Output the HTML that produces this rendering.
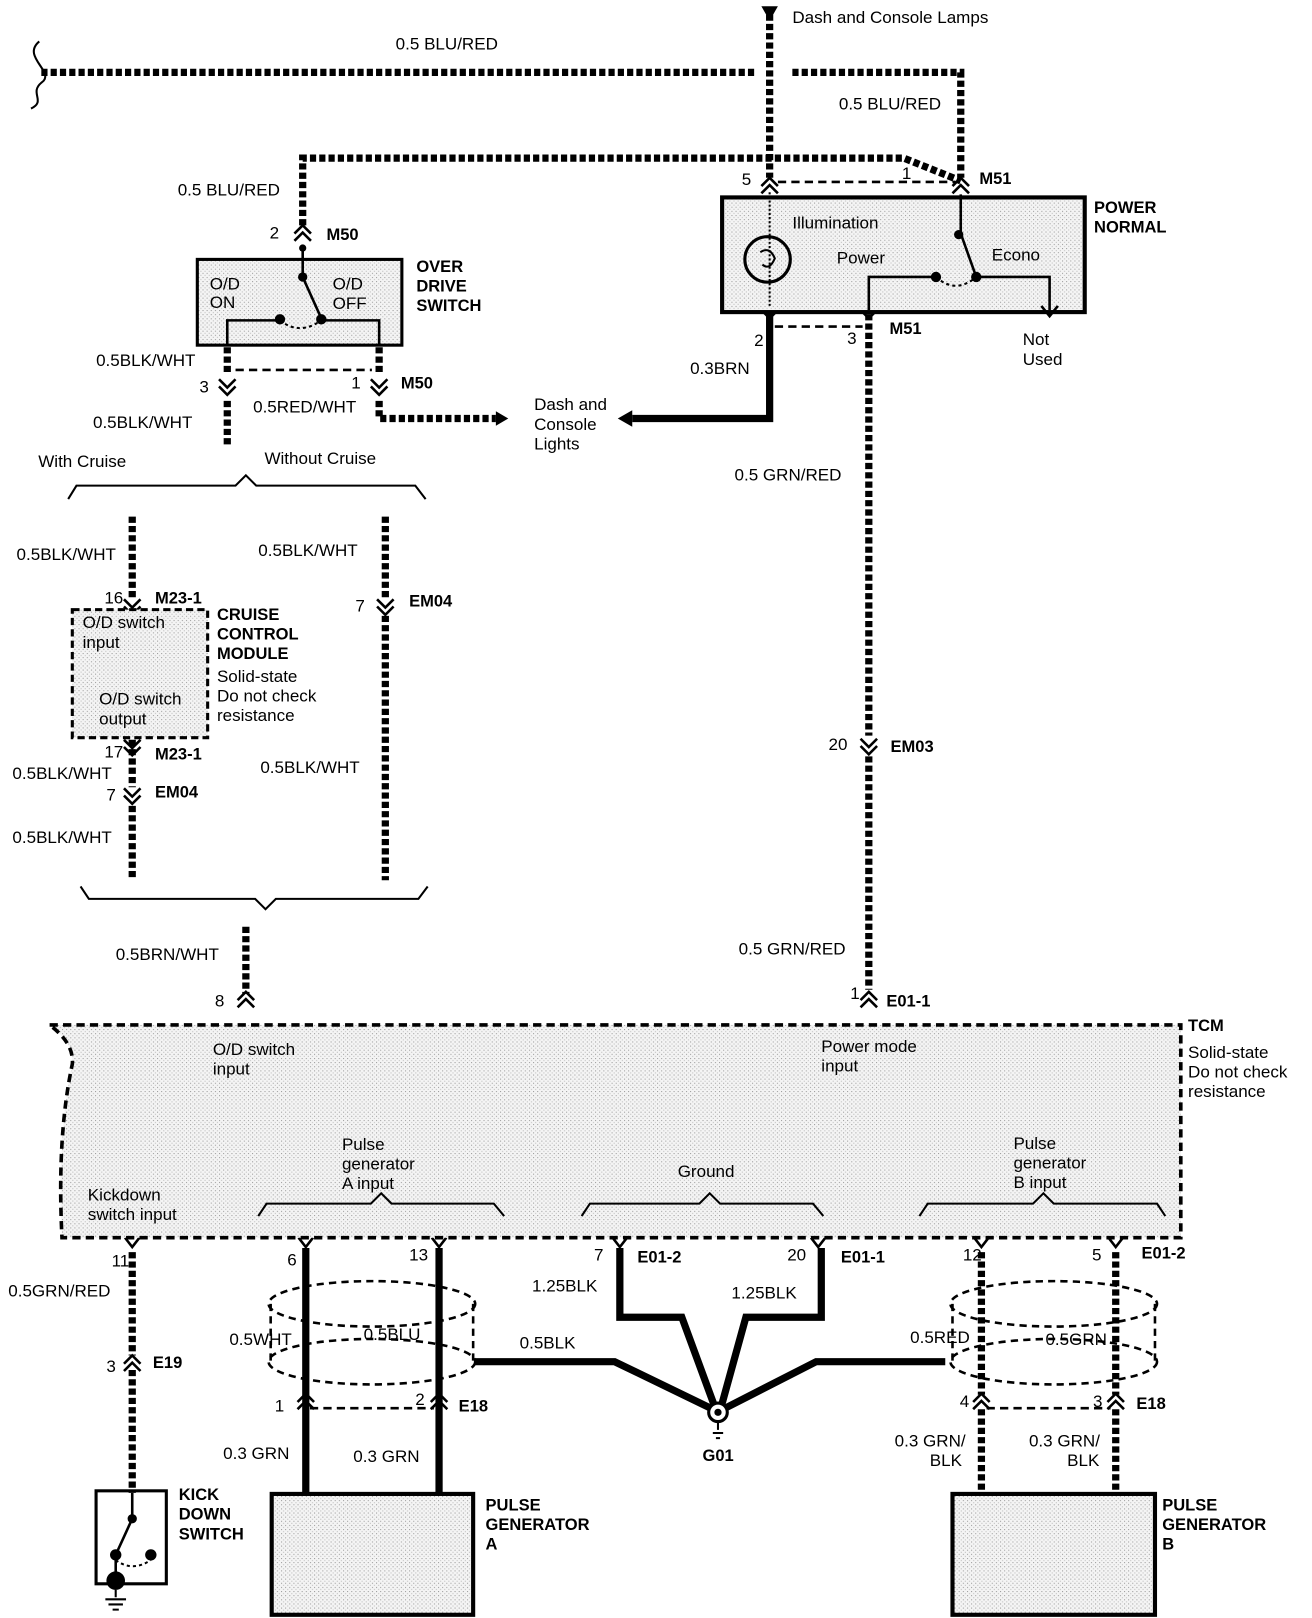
<!DOCTYPE html>
<html><head><meta charset="utf-8"><style>
html,body{margin:0;padding:0;background:#fff}
svg{display:block}
text{font-family:"Liberation Sans",sans-serif;font-size:16.5px;fill:#000}
.b{font-weight:bold;font-size:16px}
</style></head><body>
<svg width="1312" height="1618" viewBox="0 0 1270 1566" xmlns="http://www.w3.org/2000/svg">
<defs>
<pattern id="st" width="4" height="4" patternUnits="userSpaceOnUse"><rect width="4" height="4" fill="#f4f4f4"/><rect x="0" y="0" width="1" height="1" fill="#999"/><rect x="2" y="2" width="1" height="1" fill="#bbb"/></pattern>
<g id="cd" fill="none" stroke="#000" stroke-width="2.5"><polyline points="-8,-7 0,1 8,-7"/><polyline points="-8,0 0,8 8,0"/></g>
<g id="cu" fill="none" stroke="#000" stroke-width="2.5"><polyline points="-8,7 0,-1 8,7"/><polyline points="-8,0 0,-8 8,0"/></g>
<g id="vd" fill="none" stroke="#000" stroke-width="2.5"><polyline points="-7,-6 0,3 7,-6"/></g>
</defs>
<g fill="none" stroke="#000">
<!-- hatched wires -->
<g stroke-width="7" stroke-dasharray="6 3">
<path d="M40 70 H733"/>
<path d="M767 70 H930 V172"/>
<path d="M745 14 V172"/>
<path d="M293 218 V153 H875 L930 175"/>
<path d="M220 336 V362 M220 388 V432"/>
<path d="M367 336 V362 M367 388 V405 H480"/>
<path d="M841 304 V712 M841 732 V958"/>
<path d="M128 500 V580 M128 716 V762 M128 780 V852"/>
<path d="M373 500 V580 M373 596 V852"/>
<path d="M238 897 V962"/>
<path d="M128 1212 V1312 M128 1326 V1445"/>
<path d="M950 1212 V1350 M950 1364 V1446"/>
<path d="M1080 1212 V1350 M1080 1364 V1446"/>
</g>
<!-- solid wires -->
<g stroke-width="7">
<path d="M745 302 V405 H612"/>
<path d="M296 1208 V1448 M425 1208 V1448"/>
<path d="M600 1208 V1275 H660 L692 1362"/>
<path d="M795 1208 V1275 H722 L698 1362"/>
<path d="M460 1318 H595 L690 1364"/>
<path d="M915 1318 H790 L700 1364"/>
</g>
<polygon points="612,397 598,405 612,413" fill="#000" stroke="none"/>
<polygon points="480,398 492,405 480,412" fill="#000" stroke="none"/>
<polygon points="737,6 753,6 745,20" fill="#000" stroke="none"/>
<!-- wavy break -->
<path d="M38 40 C20 55,55 70,40 80 C28 90,45 98,30 105" stroke-width="2"/>
<!-- chevrons -->
<use href="#cu" x="293" y="226"/>
<use href="#cd" x="220" y="374"/><use href="#cd" x="367" y="374"/>
<path d="M228 358 H360" stroke-width="2.5" stroke-dasharray="8 5"/>
<use href="#cu" x="745" y="180"/><use href="#cu" x="930" y="180"/>
<path d="M753 176 H925" stroke-width="2.5" stroke-dasharray="8 5"/>
<use href="#cd" x="745" y="300"/><use href="#cd" x="841" y="300"/>
<path d="M750 316 H835" stroke-width="2.5" stroke-dasharray="8 5"/>
<use href="#cd" x="841" y="722"/>
<use href="#cd" x="128" y="587"/><use href="#cd" x="373" y="587"/>
<use href="#cd" x="128" y="770"/>
<use href="#cd" x="128" y="723"/>
<use href="#cu" x="238" y="968"/><use href="#cu" x="841" y="968"/>
<use href="#vd" x="128" y="1204"/><use href="#vd" x="296" y="1204"/><use href="#vd" x="425" y="1204"/><use href="#vd" x="600" y="1204"/><use href="#vd" x="792" y="1204"/><use href="#vd" x="950" y="1204"/><use href="#vd" x="1080" y="1204"/>
<use href="#cu" x="128" y="1320"/>
<use href="#cu" x="296" y="1357"/><use href="#cu" x="425" y="1357"/>
<path d="M300 1363 H420" stroke-width="2.5" stroke-dasharray="8 5"/>
<use href="#cu" x="950" y="1357"/><use href="#cu" x="1080" y="1357"/>
<path d="M955 1363 H1075" stroke-width="2.5" stroke-dasharray="8 5"/>
<!-- overdrive switch -->
<rect x="191" y="251" width="198" height="83" fill="url(#st)" stroke-width="3"/>
<path d="M293 240 V268 L311 308" stroke-width="2.5"/>
<path d="M220 334 V310 H271 M311 310 H367 V334" stroke-width="2.5"/>
<path d="M271 310 Q290 325 311 310" stroke-width="2" stroke-dasharray="3 3"/>
<!-- power normal -->
<rect x="699" y="191" width="351" height="111" fill="url(#st)" stroke-width="4"/>
<circle cx="743" cy="251" r="22" stroke-width="3"/>
<path d="M745 186 V298" stroke-width="2" stroke-dasharray="2 2"/>
<path d="M930 188 V226 L945 268" stroke-width="2.5"/>
<path d="M841 300 V268 H906 M945 268 H1016 V300" stroke-width="2.5"/>
<path d="M906 268 Q925 285 945 268" stroke-width="2" stroke-dasharray="3 3"/>
<polyline points="1008,296 1016,306 1024,296" stroke-width="2.5"/>
<!-- braces -->
<path d="M66 483 L74 470 H228 L238 460 L248 470 H402 L412 483" stroke-width="2"/>
<path d="M78 858 L86 870 H247 L257 880 L267 870 H405 L414 858" stroke-width="2"/>
<!-- cruise module -->
<rect x="70" y="590" width="131" height="124" fill="url(#st)" stroke-width="3" stroke-dasharray="7 4"/>
<!-- TCM -->
<path d="M48 992 H1143 V1198 H60 Q55 1100 70 1030 Q72 1010 48 992 Z" fill="url(#st)" stroke-width="3.5" stroke-dasharray="8 5"/>
<path d="M250 1177 L258 1165 H359 L369 1155 L379 1165 H478 L488 1177" stroke-width="2"/>
<path d="M563 1177 L571 1165 H677 L687 1155 L697 1165 H787 L797 1177" stroke-width="2"/>
<path d="M890 1177 L898 1165 H1000 L1010 1155 L1020 1165 H1120 L1128 1177" stroke-width="2"/>
<!-- shields -->
<g stroke-width="2.5" stroke-dasharray="7 5">
<ellipse cx="360" cy="1262" rx="100" ry="22"/><ellipse cx="360" cy="1318" rx="100" ry="22"/>
<path d="M262 1262 V1318 M458 1262 V1318"/>
<ellipse cx="1020" cy="1262" rx="100" ry="22"/><ellipse cx="1020" cy="1318" rx="100" ry="22"/>
<path d="M922 1262 V1318 M1118 1262 V1318"/>
</g>
<!-- G01 -->
<circle cx="695" cy="1367" r="9" fill="#fff" stroke-width="3"/><circle cx="695" cy="1367" r="3" fill="#000"/>
<path d="M695 1376 V1384 M690 1387 H700 M693 1392 H697" stroke-width="2"/>
<!-- kickdown -->
<rect x="93" y="1443" width="68" height="90" stroke-width="3"/>
<path d="M128 1445 V1470 L112 1505 V1525" stroke-width="2.5"/>
<circle cx="128" cy="1470" r="4" fill="#000"/><circle cx="112" cy="1505" r="5" fill="#000"/><circle cx="146" cy="1505" r="5" fill="#000"/>
<path d="M112 1510 Q128 1522 146 1510" stroke-width="2" stroke-dasharray="3 3"/>
<circle cx="112" cy="1530" r="9" fill="#000" stroke="none"/>
<path d="M112 1539 V1546 M102 1548 H122 M105 1553 H119 M109 1558 H115" stroke-width="2"/>
<!-- pulse gens -->
<rect x="263" y="1446" width="195" height="117" fill="url(#st)" stroke-width="4"/>
<rect x="922" y="1446" width="196" height="117" fill="url(#st)" stroke-width="4"/>
</g>
<g fill="#000">
<circle cx="293" cy="268" r="4.5"/><circle cx="271" cy="309" r="5"/><circle cx="311" cy="309" r="5"/>
<circle cx="928" cy="227" r="4.5"/><circle cx="906" cy="268" r="5"/><circle cx="945" cy="268" r="5"/>
<circle cx="293" cy="240" r="3.5"/>
</g>
<path d="M736 244 Q745 238 750 250 Q745 262 738 256" fill="none" stroke="#000" stroke-width="2"/>
<!-- text -->
<text x="767" y="22">Dash and Console Lamps</text>
<text x="383" y="48">0.5 BLU/RED</text>
<text x="812" y="106">0.5 BLU/RED</text>
<text x="172" y="189">0.5 BLU/RED</text>
<text x="261" y="231">2</text><text class="b" x="316" y="232">M50</text>
<text x="203" y="280">O/D</text><text x="203" y="298">ON</text>
<text x="322" y="280">O/D</text><text x="322" y="299">OFF</text>
<text class="b" x="403" y="263">OVER</text><text class="b" x="403" y="282">DRIVE</text><text class="b" x="403" y="301">SWITCH</text>
<text x="93" y="354">0.5BLK/WHT</text>
<text x="193" y="380">3</text><text x="340" y="376">1</text><text class="b" x="388" y="376">M50</text>
<text x="245" y="399">0.5RED/WHT</text>
<text x="90" y="414">0.5BLK/WHT</text>
<text x="517" y="397">Dash and</text><text x="517" y="416">Console</text><text x="517" y="435">Lights</text>
<text x="37" y="452">With Cruise</text><text x="256" y="449">Without Cruise</text>
<text x="718" y="179">5</text><text x="873" y="173">1</text><text class="b" x="948" y="178">M51</text>
<text x="767" y="221">Illumination</text><text x="810" y="255">Power</text><text x="960" y="252">Econo</text>
<text class="b" x="1059" y="206">POWER</text><text class="b" x="1059" y="225">NORMAL</text>
<text x="730" y="335">2</text><text x="820" y="333">3</text><text class="b" x="861" y="323">M51</text>
<text x="990" y="334">Not</text><text x="990" y="353">Used</text>
<text x="668" y="362">0.3BRN</text>
<text x="711" y="465">0.5 GRN/RED</text>
<text x="16" y="542">0.5BLK/WHT</text><text x="250" y="538">0.5BLK/WHT</text>
<text x="101" y="584">16</text><text class="b" x="150" y="584">M23-1</text>
<text x="344" y="592">7</text><text class="b" x="396" y="587">EM04</text>
<text x="80" y="608">O/D switch</text><text x="80" y="627">input</text>
<text x="96" y="682">O/D switch</text><text x="96" y="701">output</text>
<text class="b" x="210" y="600">CRUISE</text><text class="b" x="210" y="619">CONTROL</text><text class="b" x="210" y="638">MODULE</text>
<text x="210" y="660">Solid-state</text><text x="210" y="679">Do not check</text><text x="210" y="698">resistance</text>
<text x="802" y="726">20</text><text class="b" x="862" y="728">EM03</text>
<text x="101" y="733">17</text><text class="b" x="150" y="735">M23-1</text>
<text x="12" y="754">0.5BLK/WHT</text><text x="252" y="748">0.5BLK/WHT</text>
<text x="103" y="775">7</text><text class="b" x="150" y="772">EM04</text>
<text x="12" y="816">0.5BLK/WHT</text>
<text x="112" y="929">0.5BRN/WHT</text><text x="715" y="924">0.5 GRN/RED</text>
<text x="208" y="974">8</text><text x="823" y="967">1</text><text class="b" x="858" y="974">E01-1</text>
<text class="b" x="1150" y="998">TCM</text>
<text x="1150" y="1024">Solid-state</text><text x="1150" y="1043">Do not check</text><text x="1150" y="1062">resistance</text>
<text x="206" y="1021">O/D switch</text><text x="206" y="1040">input</text>
<text x="795" y="1018">Power mode</text><text x="795" y="1037">input</text>
<text x="331" y="1113">Pulse</text><text x="331" y="1132">generator</text><text x="331" y="1151">A input</text>
<text x="656" y="1139">Ground</text>
<text x="981" y="1112">Pulse</text><text x="981" y="1131">generator</text><text x="981" y="1150">B input</text>
<text x="85" y="1162">Kickdown</text><text x="85" y="1181">switch input</text>
<text x="108" y="1226">11</text><text x="278" y="1225">6</text><text x="396" y="1220">13</text>
<text x="575" y="1220">7</text><text class="b" x="617" y="1222">E01-2</text>
<text x="762" y="1220">20</text><text class="b" x="814" y="1222">E01-1</text>
<text x="932" y="1220">12</text><text x="1057" y="1220">5</text><text class="b" x="1105" y="1218">E01-2</text>
<text x="8" y="1255">0.5GRN/RED</text>
<text x="515" y="1250">1.25BLK</text><text x="708" y="1257">1.25BLK</text>
<text x="222" y="1302">0.5WHT</text><text x="352" y="1297">0.5BLU</text>
<text x="503" y="1305">0.5BLK</text>
<text x="881" y="1300">0.5RED</text><text x="1012" y="1302">0.5GRN</text>
<text x="103" y="1328">3</text><text class="b" x="148" y="1324">E19</text>
<text x="266" y="1366">1</text><text x="402" y="1360">2</text><text class="b" x="444" y="1366">E18</text>
<text x="929" y="1362">4</text><text x="1058" y="1362">3</text><text class="b" x="1100" y="1364">E18</text>
<text x="866" y="1400">0.3 GRN/</text><text x="900" y="1419">BLK</text>
<text x="996" y="1400">0.3 GRN/</text><text x="1033" y="1419">BLK</text>
<text class="b" x="680" y="1414">G01</text>
<text x="216" y="1412">0.3 GRN</text><text x="342" y="1415">0.3 GRN</text>
<text class="b" x="173" y="1452">KICK</text><text class="b" x="173" y="1471">DOWN</text><text class="b" x="173" y="1490">SWITCH</text>
<text class="b" x="470" y="1462">PULSE</text><text class="b" x="470" y="1481">GENERATOR</text><text class="b" x="470" y="1500">A</text>
<text class="b" x="1125" y="1462">PULSE</text><text class="b" x="1125" y="1481">GENERATOR</text><text class="b" x="1125" y="1500">B</text>
</svg>
</body></html>
